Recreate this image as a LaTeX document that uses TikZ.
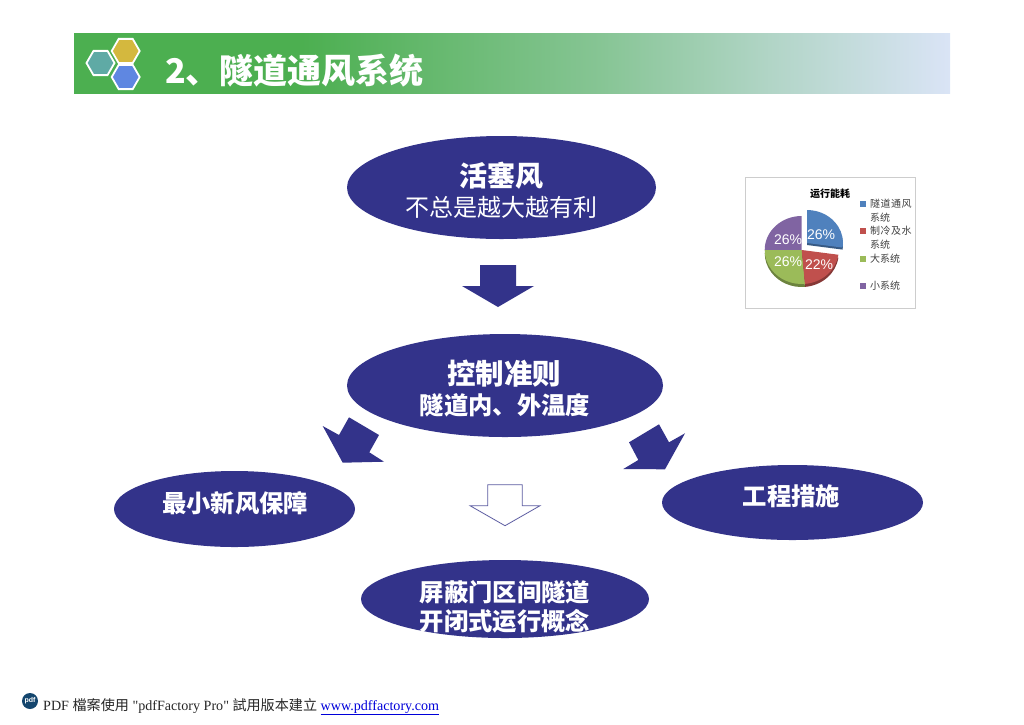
\documentclass[tikz,border=0pt]{standalone}
\usepackage{fontspec}
\newfontfamily\footfont{Liberation Serif}
\newfontfamily\cjksc{Noto Sans CJK SC}
\newfontfamily\cjktc{Noto Sans CJK TC}
\newfontfamily\arialfont{Liberation Sans}
\usetikzlibrary{shapes.geometric}
\definecolor{navyfill}{RGB}{51,51,138}
\definecolor{bannergreen}{RGB}{76,175,80}
\definecolor{bannerpale}{RGB}{218,228,246}
\definecolor{piegrid}{RGB}{205,205,205}
\definecolor{pieblue}{RGB}{79,129,189}
\definecolor{piered}{RGB}{192,80,77}
\definecolor{piegreen}{RGB}{155,187,89}
\definecolor{piepurple}{RGB}{128,100,162}
\pgfdeclarehorizontalshading{bannershade}{100bp}{
  color(0bp)=(bannergreen); color(38bp)=(bannergreen); color(55bp)=(bannergreen!59!bannerpale);
  color(65bp)=(bannergreen!28!bannerpale); color(75bp)=(bannerpale); color(100bp)=(bannerpale)}
\tikzset{
  oval/.style={ellipse, fill=navyfill, inner sep=0pt},
  ovaltext/.style={text=white, inner sep=0pt, font=\cjksc\fontsize{#1}{#1}\selectfont},
  ovalbold/.style={text=white, inner sep=0pt, font=\cjksc\bfseries\fontsize{#1}{#1}\selectfont},
  hexcell/.style={regular polygon, regular polygon sides=6, draw=white, line width=1.8pt, minimum size=28pt, inner sep=0pt},
  pietext/.style={text=white, inner sep=0pt, font=\arialfont\fontsize{14}{14}\selectfont},
  legendtext/.style={anchor=west, text=black!75, inner sep=0pt, font=\cjksc\fontsize{10}{10}\selectfont},
  legendkey/.style={minimum size=6pt, inner sep=0pt}
}
\begin{document}
\begin{tikzpicture}[x=1pt, y=-1pt]
  \useasboundingbox (0,0) rectangle (1024,724);
  % banner
  \shade[shading=bannershade] (74,33.5) rectangle (950,93.5);
  \node[hexcell, fill={rgb,255:red,95;green,170;blue,165}] (hexteal) at (100.5,63) {};
  \node[hexcell, fill={rgb,255:red,212;green,184;blue,62}] (hexyellow) at (125.7,51) {};
  \node[hexcell, fill={rgb,255:red,95;green,135;blue,225}] (hexblue) at (125.7,77) {};
  \node[ovalbold=34, anchor=west] (title) at (165,71) {2、隧道通风系统};
  % ovals
  \node[oval, minimum width=309pt, minimum height=103pt] (piston) at (501.5,187.5) {};
  \node[ovalbold=28] (pistonhead) at (501,176) {活塞风};
  \node[ovaltext=24] (pistonsub) at (501,207) {不总是越大越有利};
  \node[oval, minimum width=316pt, minimum height=103pt] (rule) at (505,385.5) {};
  \node[ovalbold=28.5] (rulehead) at (504,374) {控制准则};
  \node[ovalbold=24.3] (rulesub) at (505,405) {隧道内、外温度};
  \node[oval, minimum width=241pt, minimum height=76pt] (fresh) at (234.5,509) {};
  \node[ovalbold=24.3] (freshtext) at (235,503) {最小新风保障};
  \node[oval, minimum width=261pt, minimum height=75pt] (works) at (792.5,502.5) {};
  \node[ovalbold=24.3] (workstext) at (791.5,496) {工程措施};
  \node[oval, minimum width=288pt, minimum height=78pt] (screen) at (505,599) {};
  \node[ovalbold=24.3] (screenone) at (505,592) {屏蔽门区间隧道};
  \node[ovalbold=24.3] (screentwo) at (505,621) {开闭式运行概念};
  % arrows
  \fill[navyfill] (480,265) -- (516,265) -- (516,286) -- (534,286) -- (498,307) -- (462,286) -- (480,286) -- cycle;
  \fill[navyfill] (349,417.3) -- (379,435) -- (369.3,452.3) -- (384,461.7) -- (342.7,462.7) -- (322.7,426) -- (339,435) -- cycle;
  \fill[navyfill] (659,424.3) -- (669,442.3) -- (685,433.3) -- (665,469.3) -- (623.3,469) -- (638.3,460) -- (629,442.3) -- cycle;
  \draw[navyfill!80, line width=0.8pt, fill=white, line join=miter] (487.7,484.7) -- (522.3,484.7) -- (522.3,505.7) -- (540,505.7) -- (505,525.7) -- (470,505.7) -- (487.7,505.7) -- cycle;
  % pie chart
  \draw[piegrid, fill=white, line width=0.8pt] (745,177) rectangle (915,308);
  \node[inner sep=0pt, font=\cjksc\bfseries\fontsize{10}{10}\selectfont] (charttitle) at (830,194) {运行能耗};
  \coordinate (piemid) at (801.7,250);
  \coordinate (pieout) at (807,243);
  \fill[piered!70!black] ([yshift=-3pt]piemid) -- +(8:37 and 34) arc[start angle=8, end angle=85, x radius=37, y radius=34] -- cycle;
  \fill[piegreen!70!black] ([yshift=-3pt]piemid) -- +(85:37 and 34) arc[start angle=85, end angle=180, x radius=37, y radius=34] -- cycle;
  \fill[pieblue!70!black] ([yshift=-2pt]pieout) -- +(-90:36 and 33) arc[start angle=-90, end angle=8, x radius=36, y radius=33] -- cycle;
  \fill[piepurple] (piemid) -- +(180:37 and 34) arc[start angle=180, end angle=270, x radius=37, y radius=34] -- cycle;
  \fill[piegreen] (piemid) -- +(85:37 and 34) arc[start angle=85, end angle=180, x radius=37, y radius=34] -- cycle;
  \fill[piered] (piemid) -- +(8:37 and 34) arc[start angle=8, end angle=85, x radius=37, y radius=34] -- cycle;
  \fill[pieblue] (pieout) -- +(-90:36 and 33) arc[start angle=-90, end angle=8, x radius=36, y radius=33] -- cycle;
  \node[pietext] (pctblue) at (821,235) {26\%};
  \node[pietext] (pctred) at (819,265) {22\%};
  \node[pietext] (pctgreen) at (788,262) {26\%};
  \node[pietext] (pctpurple) at (788,240) {26\%};
  % legend
  \node[legendkey, fill=pieblue] (keyblue) at (863,204) {};
  \node[legendkey, fill=piered] (keyred) at (863,231) {};
  \node[legendkey, fill=piegreen] (keygreen) at (863,259) {};
  \node[legendkey, fill=piepurple] (keypurple) at (863,286) {};
  \node[legendtext] (legblue) at (870,204) {隧\kern.5pt道\kern.5pt通\kern.5pt风};
  \node[legendtext] (legbluetwo) at (870,218) {系统};
  \node[legendtext] (legred) at (870,231) {制\kern.5pt冷\kern.5pt及\kern.5pt水};
  \node[legendtext] (legredtwo) at (870,245) {系统};
  \node[legendtext] (leggreen) at (870,259) {大系统};
  \node[legendtext] (legpurple) at (870,286) {小系统};
  % footer
  \node[circle, fill={rgb,255:red,20;green,70;blue,110}, minimum size=16pt, inner sep=0pt, text=white, font=\arialfont\bfseries\fontsize{7}{7}\selectfont] (pdficon) at (30,701) {pdf};
  \node[anchor=base west, inner sep=0pt, text=black!85, font=\footfont\fontsize{14.1}{14.1}\selectfont] (footer) at (43,710) {PDF {\cjktc\fontsize{14.1}{14.1}\selectfont 檔案使用} "pdfFactory Pro" {\cjktc\fontsize{14.1}{14.1}\selectfont 試用版本建立} \textcolor{blue!85!black}{\underline{www.pdffactory.com}}};
\end{tikzpicture}
\end{document}
